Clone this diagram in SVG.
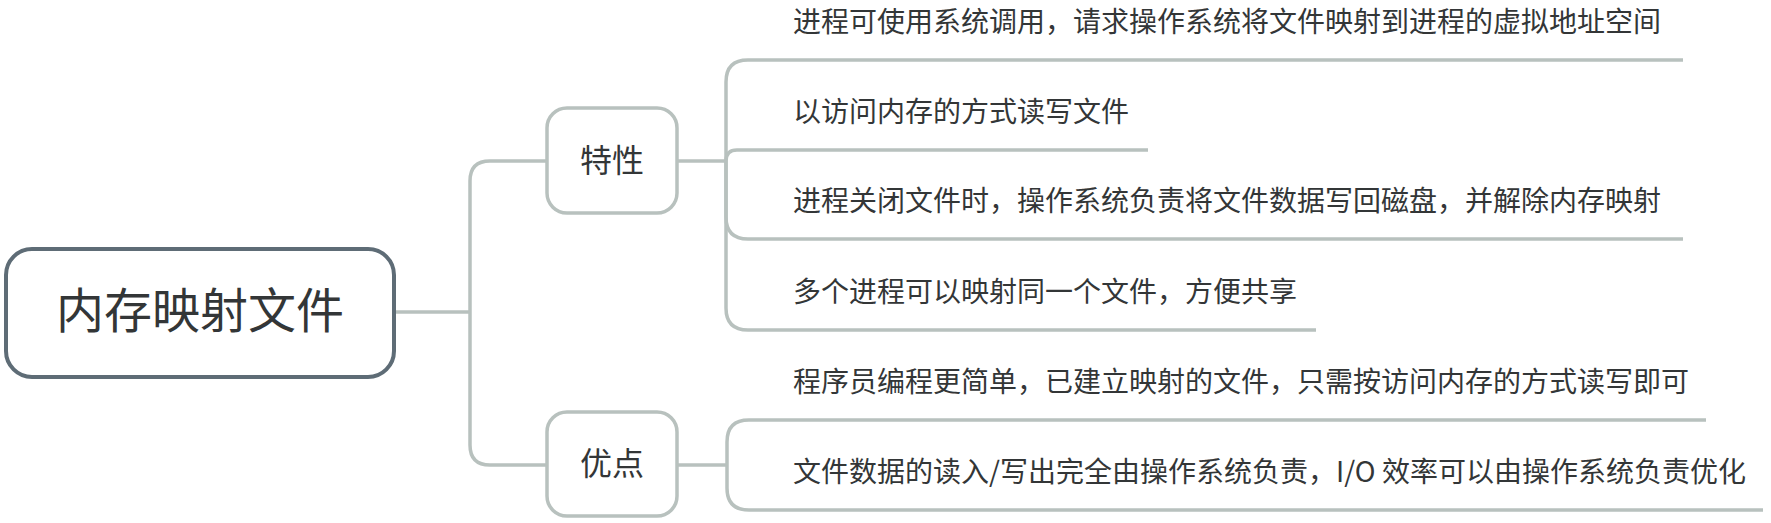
<svg xmlns="http://www.w3.org/2000/svg" width="1771" height="523" viewBox="0 0 1771 523">
<style>
  .bg { fill: #ffffff; }
  .conn { fill: none; stroke: #b8c1be; stroke-width: 3.5; stroke-linecap: butt; stroke-linejoin: round; }
  .root-box { fill: #ffffff; stroke: #5e6c76; stroke-width: 4; }
  .sub-box { fill: #ffffff; stroke: #b8c1be; stroke-width: 3.5; }
  .txt { font-family: "Noto Sans CJK SC", "Noto Sans", sans-serif; fill: #333637; }
  .root-txt { font-size: 48px; text-anchor: middle; }
  .sub-txt { font-size: 32px; text-anchor: middle; }
  .leaf-txt { font-size: 28px; }
</style>
<rect class="bg" x="0" y="0" width="1771" height="523"/>
<g id="connectors">
  <path class="conn" d="M394,312 H470"/>
  <path class="conn" d="M470,312 V181 Q470,161 490,161 H547"/>
  <path class="conn" d="M470,312 V445 Q470,465 490,465 H547"/>
  <path class="conn" d="M677,161 H726"/>
  <path class="conn" d="M726,161 V82 Q726,60 748,60 H1683"/>
  <path class="conn" d="M726,161 Q726,150 737,150 H1148"/>
  <path class="conn" d="M726,161 V217 Q726,239 748,239 H1683"/>
  <path class="conn" d="M726,161 V308 Q726,330 748,330 H1316"/>
  <path class="conn" d="M677,465 H727"/>
  <path class="conn" d="M727,465 V442 Q727,420 749,420 H1706"/>
  <path class="conn" d="M727,465 V488 Q727,510 749,510 H1763"/>
</g>
<g id="root">
  <rect class="root-box" x="6" y="249" width="388" height="128" rx="26" ry="26"/>
  <text class="txt root-txt" x="200" y="328">内存映射文件</text>
</g>
<g id="node-features">
  <rect class="sub-box" x="547" y="108" width="130" height="105" rx="20" ry="20"/>
  <text class="txt sub-txt" x="612" y="172">特性</text>
</g>
<g id="node-advantages">
  <rect class="sub-box" x="547" y="412" width="130" height="104" rx="20" ry="20"/>
  <text class="txt sub-txt" x="612" y="475">优点</text>
</g>
<g id="leaf-1">
  <text class="txt leaf-txt" x="793" y="32">进程可使用系统调用，请求操作系统将文件映射到进程的虚拟地址空间</text>
</g>
<g id="leaf-2">
  <text class="txt leaf-txt" x="793" y="122">以访问内存的方式读写文件</text>
</g>
<g id="leaf-3">
  <text class="txt leaf-txt" x="793" y="211">进程关闭文件时，操作系统负责将文件数据写回磁盘，并解除内存映射</text>
</g>
<g id="leaf-4">
  <text class="txt leaf-txt" x="793" y="302">多个进程可以映射同一个文件，方便共享</text>
</g>
<g id="leaf-5">
  <text class="txt leaf-txt" x="793" y="392">程序员编程更简单，已建立映射的文件，只需按访问内存的方式读写即可</text>
</g>
<g id="leaf-6">
  <text class="txt leaf-txt" x="793" y="482">文件数据的读入/写出完全由操作系统负责，I/O 效率可以由操作系统负责优化</text>
</g>
</svg>
